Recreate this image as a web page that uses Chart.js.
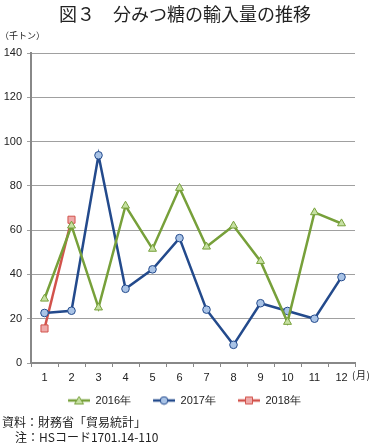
<!DOCTYPE html>
<html>
<head>
<meta charset="utf-8">
<script src="https://cdn.jsdelivr.net/npm/chart.js@4"></script>
<style>
  body { margin: 0; background: #fff; }
  #wrap { position: relative; width: 370px; height: 443px; font-family: "Noto Sans CJK JP", sans-serif; color: #222; }
  #title { position: absolute; top: 0; left: 0; width: 370px; text-align: center; font-size: 18px; line-height: 26px; }
  #unit { position: absolute; top: 29px; left: 0; font-size: 9px; }
  #month { position: absolute; top: 367px; left: 352px; font-size: 10px; letter-spacing: 0.5px; }
  .note { position: absolute; font-size: 12px; line-height: 15px; white-space: nowrap; }
  #box { position: absolute; top: 0; left: 0; width: 370px; height: 416px; }
</style>
</head>
<body>
<div id="wrap">
  <div id="box"><canvas id="chart"></canvas></div>
  <div id="title">図３　分みつ糖の輸入量の推移</div>
  <div id="unit">（千トン）</div>
  <div id="month">(月)</div>
  <div class="note" style="top:414px; left:2px">資料：財務省「貿易統計」</div>
  <div class="note" style="top:429px; left:15px">注：HSコード1701.14-110</div>
</div>
<script>
const months = ["1", "2", "3", "4", "5", "6", "7", "8", "9", "10", "11", "12"];
const y2016 = [29, 62, 25, 71, 51.5, 79, 52.5, 62, 46, 18.5, 68, 63];
const y2017 = [22.6, 23.6, 93.8, 33.5, 42.3, 56.4, 24.1, 8.2, 27, 23.5, 20, 38.8];
const y2018 = [15.6, 64.7];

// legend swatch: blank lead-in, then line with marker in the middle
function swatch(line, fill, shape) {
  const c = document.createElement("canvas");
  const lead = 14;
  c.width = lead + 22; c.height = 10;
  const g = c.getContext("2d");
  g.translate(lead, 0);
  g.strokeStyle = line; g.lineWidth = 2.5;
  g.beginPath(); g.moveTo(0, 5); g.lineTo(22, 5); g.stroke();
  g.fillStyle = fill; g.lineWidth = 1;
  g.beginPath();
  if (shape === "triangle") { g.moveTo(11, 1); g.lineTo(15.5, 8.5); g.lineTo(6.5, 8.5); g.closePath(); }
  else if (shape === "circle") { g.arc(11, 5, 3.8, 0, Math.PI * 2); }
  else { g.rect(7.5, 1.5, 7, 7); }
  g.fill(); g.stroke();
  return c;
}

const series = [
  { label: "2016年", data: y2016, line: "#77a03a", fill: "#c6e0a2", shape: "triangle", r: 4.6 },
  { label: "2017年", data: y2017, line: "#234a8c", fill: "#a9c3e6", shape: "circle", r: 3.8 },
  { label: "2018年", data: y2018, line: "#d2524b", fill: "#eeaaaa", shape: "rect", r: 5 }
];

new Chart(document.getElementById("chart"), {
  type: "line",
  data: {
    labels: months,
    datasets: series.map(s => ({
      label: s.label,
      data: s.data,
      borderColor: s.line,
      backgroundColor: s.fill,
      borderWidth: 2.5,
      pointStyle: s.shape,
      pointRadius: s.r,
      pointBorderWidth: 1,
      pointBorderColor: s.line,
      pointBackgroundColor: s.fill,
      tension: 0
    }))
  },
  options: {
    responsive: true,
    maintainAspectRatio: false,
    animation: false,
    layout: { padding: { top: 53, right: 15, left: 0, bottom: 0 } },
    plugins: {
      tooltip: { enabled: false },
      legend: {
        position: "bottom",
        labels: {
          usePointStyle: true,
          pointStyleWidth: 36,
          color: "#222",
          font: { family: "Liberation Sans", size: 11 },
          padding: 8,
          generateLabels(chart) {
            return Chart.defaults.plugins.legend.labels.generateLabels(chart).map((it, i) => {
              it.pointStyle = swatch(series[i].line, series[i].fill, series[i].shape);
              return it;
            });
          }
        }
      }
    },
    scales: {
      x: {
        offset: true,
        grid: { offset: true, drawOnChartArea: false, tickLength: 4, color: "#888" },
        border: { color: "#888", width: 2 },
        ticks: { color: "#222", font: { family: "Liberation Sans", size: 11 }, padding: 4, maxRotation: 0 },
        afterFit(scale) { scale.height = 24; }
      },
      y: {
        min: 0, max: 140,
        ticks: { stepSize: 20, color: "#222", font: { family: "Liberation Sans", size: 11 }, padding: 5 },
        grid: { color: "#a0a0a0", lineWidth: 1, tickLength: 4 },
        border: { color: "#888", width: 2 },
        afterFit(scale) { scale.width = 31; }
      }
    }
  }
});
</script>
</body>
</html>
